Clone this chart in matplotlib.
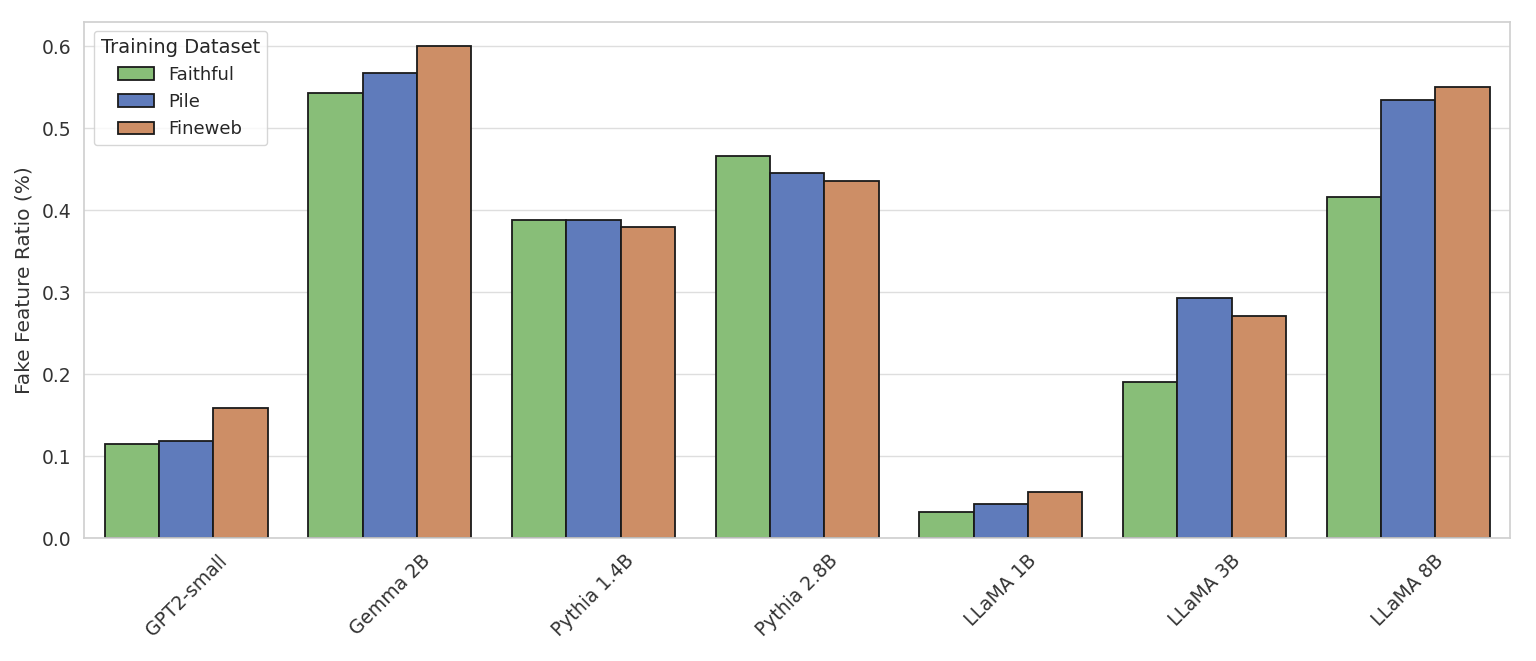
import matplotlib
matplotlib.use("Agg")
import matplotlib.pyplot as plt
import seaborn as sns
import pandas as pd

models = ['GPT2-small', 'Gemma 2B', 'Pythia 1.4B', 'Pythia 2.8B', 'LLaMA 1B', 'LLaMA 3B', 'LLaMA 8B']
datasets = ['Faithful', 'Pile', 'Fineweb']
faithful = [0.115, 0.543, 0.388, 0.466, 0.032, 0.191, 0.416]
pile = [0.119, 0.567, 0.388, 0.446, 0.042, 0.293, 0.534]
fineweb = [0.159, 0.600, 0.380, 0.436, 0.056, 0.271, 0.550]

rows = []
for name, vals in zip(datasets, [faithful, pile, fineweb]):
    for m, v in zip(models, vals):
        rows.append({'Model': m, 'Training Dataset': name, 'ratio': v})
df = pd.DataFrame(rows)

sns.set_theme(style='whitegrid', rc={'grid.color': '#dedede', 'axes.edgecolor': '#d0d0d0'})
plt.rcParams['font.family'] = ['DejaVu Sans']
palette = ['#88be78', '#5f7bbb', '#cd8e66']

fig, ax = plt.subplots(figsize=(15.36, 6.61), dpi=100)
sns.barplot(data=df, x='Model', y='ratio', hue='Training Dataset', palette=palette,
            saturation=1, edgecolor='#1a1a1a', linewidth=1.3, ax=ax)
ax.set_ylim(0, 0.63)
ax.set_xlabel('')
ax.set_ylabel('Fake Feature Ratio (%)', fontsize=14.5, color='#333333', labelpad=6)
ax.tick_params(axis='both', labelsize=13.5, labelcolor='#333333')
plt.setp(ax.get_xticklabels(), rotation=45)
leg = ax.legend(title='Training Dataset', loc='upper left', fontsize=13, title_fontsize=14)
fig.subplots_adjust(left=0.055, right=0.983, top=0.967, bottom=0.186)
fig.savefig('out.png')
